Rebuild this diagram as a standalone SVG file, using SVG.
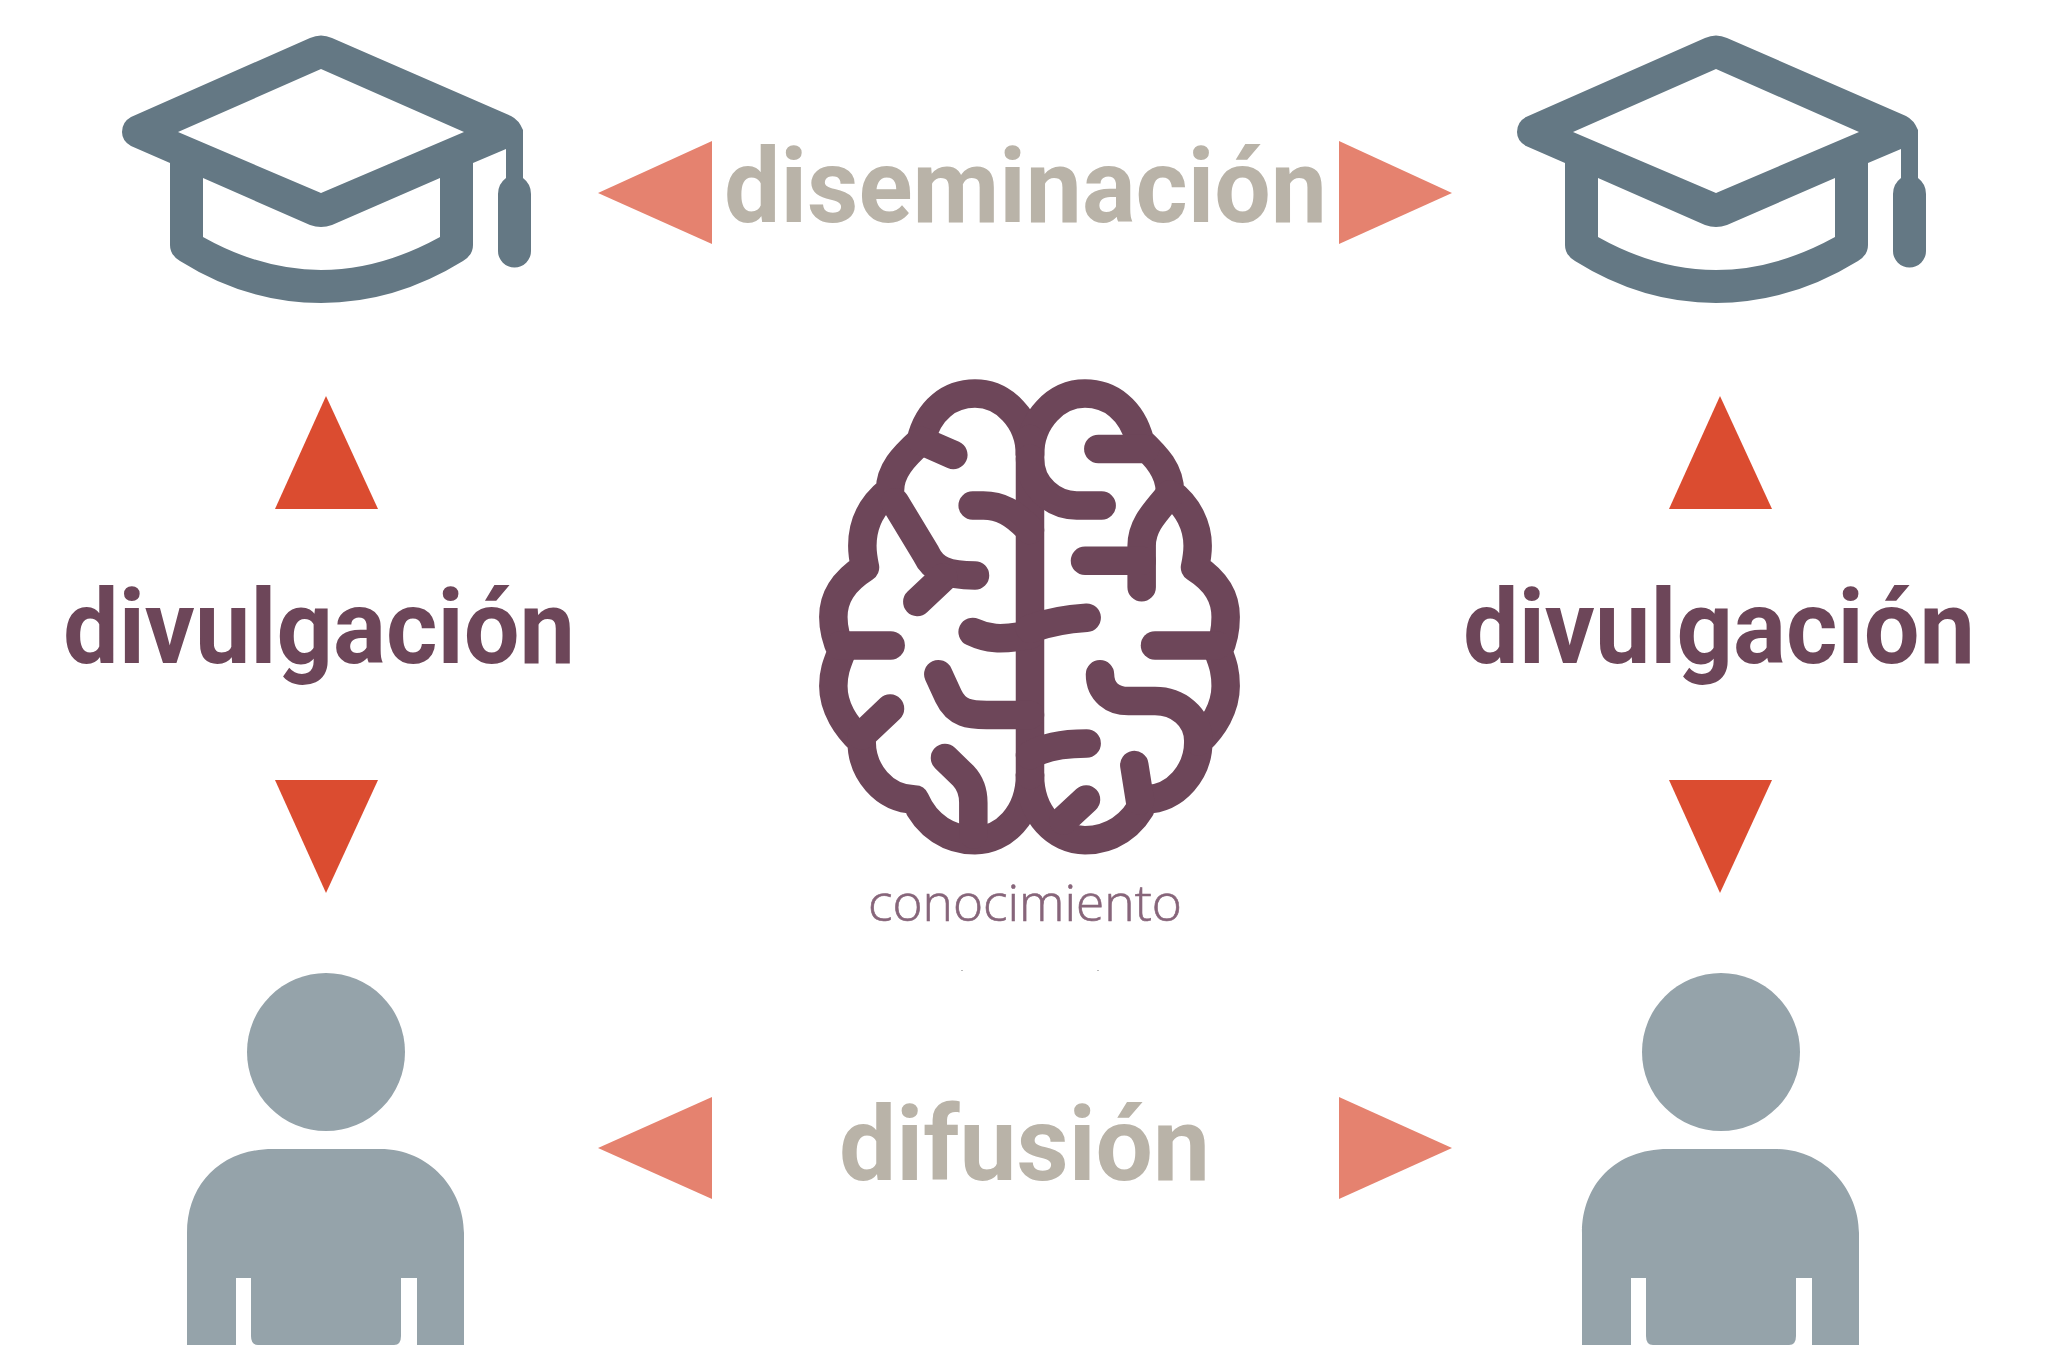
<svg xmlns="http://www.w3.org/2000/svg" width="2048" height="1345" viewBox="0 0 2048 1345">
<defs>
<style>
.brain{fill:none;stroke:#6d4659;stroke-width:28.5;stroke-linecap:round;stroke-linejoin:round;vector-effect:non-scaling-stroke}
.big{font-family:Roboto,"Noto Sans",sans-serif;font-weight:700;font-size:104px}
.beige{fill:#b9b3a8}
.plum{fill:#6d4659}
.light{fill:#e5826f}
.dark{fill:#db4c30}
.cap{fill:#647884;fill-rule:evenodd}
.person{fill:#95a3aa}
</style>
<g id="capShape">
<path class="cap" d="M310 38Q321 33 332 38L511 116Q519 120 523 130V178Q531 184 531 194V251A16.500 16.500 0 0 1 498 251V194Q498 184 506 178V149L473 163V245Q473 255 463 261Q395 303 321 303Q247 303 180 261Q170 255 170 245V163L131 146Q122 141 122 132Q122 122 131 117ZM321 69L178 132L321 193L464 132ZM203 178V237Q262 270 321 270Q380 270 440 237V178L332 225Q321 229 310 225Z"/>
</g>
<g id="personShape">
<circle class="person" cx="326" cy="1052" r="79"/>
<path class="person" d="M273 1149H380C430 1149 464 1190 464 1233V1345H417V1278H401V1336Q401 1345 394 1345H258Q251 1345 251 1336V1278H236V1345H187V1233C187 1185 220 1149 273 1149Z"/>
</g>
</defs>
<rect width="2048" height="1345" fill="#ffffff"/>

<g id="connectors">
<polygon class="light" points="712,141 712,244 598,193"/>
<polygon class="light" points="1339,141 1339,244 1452,193"/>
<polygon class="light" points="712,1097 712,1199 598,1148"/>
<polygon class="light" points="1339,1097 1339,1199 1452,1148"/>
<polygon class="dark" points="326,396 378,509 275,509"/>
<polygon class="dark" points="326,893 378,780 275,780"/>
<polygon class="dark" points="1720,396 1772,509 1669,509"/>
<polygon class="dark" points="1720,893 1772,780 1669,780"/>
</g>

<g id="cap-left"><use href="#capShape"/></g>
<g id="cap-right"><use href="#capShape" x="1395"/></g>
<g id="person-left"><use href="#personShape"/></g>
<g id="person-right"><use href="#personShape" x="1395"/></g>

<g id="brain" transform="translate(800 360) scale(0.33333 0.39526)">
<path class="brain" d="M690 240C690 150 610 85 525 85C450 85 385 125 362 205C310 245 270 280 270 330C210 370 187 420 187 470C187 490 190 505 195 525C130 560 100 600 100 650C100 690 115 720 125 738C110 770 100 790 100 825C100 880 140 930 185 965C185 1040 250 1110 345 1112C380 1180 450 1215 525 1215C610 1215 690 1150 690 1050"/>
<path class="brain" d="M690 240C690 150 770 85 855 85C930 85 995 125 1020 205C1070 245 1110 280 1110 335C1165 370 1193 420 1193 470C1193 490 1190 505 1185 525C1250 560 1277 600 1277 650C1277 690 1265 720 1255 738C1270 770 1277 790 1277 825C1277 880 1240 930 1195 965C1195 1040 1130 1110 1035 1112C1000 1180 930 1215 855 1215C770 1215 690 1150 690 1050"/>
<path class="brain" d="M690 1050V200"/>
<path class="brain" d="M365 205L460 240"/>
<path class="brain" d="M518 368H550C600 368 640 385 690 430"/>
<path class="brain" d="M285 360L378 490C400 530 440 545 525 545"/>
<path class="brain" d="M352 612L430 550"/>
<path class="brain" d="M518 688C560 705 600 710 690 695"/>
<path class="brain" d="M120 722H272"/>
<path class="brain" d="M415 795L445 850C470 895 510 898 560 898H690"/>
<path class="brain" d="M270 882L185 950"/>
<path class="brain" d="M435 1007L490 1052C510 1070 520 1090 520 1120V1200"/>
<path class="brain" d="M895 225H1035"/>
<path class="brain" d="M690 250C690 320 760 368 830 368H905"/>
<path class="brain" d="M1110 340C1060 390 1025 420 1025 470V575"/>
<path class="brain" d="M855 508H1025"/>
<path class="brain" d="M690 680C740 665 800 655 860 652"/>
<path class="brain" d="M1065 722H1250"/>
<path class="brain" d="M900 795C900 840 940 863 985 863H1065C1130 863 1195 900 1195 965"/>
<path class="brain" d="M690 1000C740 975 800 970 860 970"/>
<path class="brain" d="M1003 1025L1020 1115"/>
<path class="brain" d="M858 1112L790 1165"/>
</g>

<g id="label-conocimiento">
<text x="868" y="921" font-family="'Open Sans','Noto Sans',sans-serif" font-weight="300" font-size="50" fill="#87657a" stroke="#87657a" stroke-width="0.6" textLength="314" lengthAdjust="spacingAndGlyphs">conocimiento</text>
<rect x="961" y="970" width="2" height="1" fill="#bbbbbb"/>
<rect x="1097" y="970" width="2" height="1" fill="#bbbbbb"/>
</g>
<g id="label-diseminacion"><text class="big beige" x="724" y="222" textLength="603" lengthAdjust="spacingAndGlyphs">diseminación</text></g>
<g id="label-difusion"><text class="big beige" x="839" y="1180" textLength="371" lengthAdjust="spacingAndGlyphs">difusión</text></g>
<g id="label-divulgacion-left"><text class="big plum" x="63" y="663" textLength="512" lengthAdjust="spacingAndGlyphs">divulgación</text></g>
<g id="label-divulgacion-right"><text class="big plum" x="1463" y="663" textLength="512" lengthAdjust="spacingAndGlyphs">divulgación</text></g>
</svg>
